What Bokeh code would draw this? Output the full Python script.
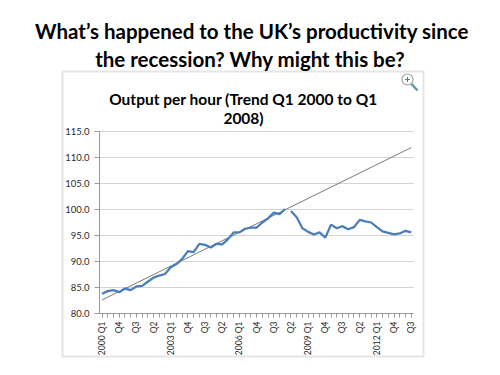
from bokeh.plotting import figure
from bokeh.models import (Range1d, FixedTicker, NumeralTickFormatter, Label,
                          BoxAnnotation, LinearAxis)
from bokeh.embed import file_html
from bokeh.resources import INLINE

# ---- data -------------------------------------------------------------
heading = ["What\u2019s happened to the UK\u2019s productivity since",
           "the recession? Why might this be?"]
chart_title = ["Output per hour (Trend Q1 2000 to Q1", "2008)"]

tick_labels = ["2000 Q1", "Q4", "Q3", "Q2", "2003 Q1", "Q4", "Q3", "Q2",
               "2006 Q1", "Q4", "Q3", "Q2", "2009 Q1", "Q4", "Q3", "Q2",
               "2012 Q1", "Q4", "Q3"]
tick_index = [0, 3, 6, 9, 12, 15, 18, 21, 24, 27, 30, 33, 36, 39, 42, 45,
              48, 51, 54]
quarter_index = list(range(0, 55))

# output per hour, 2000 Q1 .. 2008 Q1 (index 0..32)
pre_index = list(range(0, 33))
pre_values = [83.8, 84.3, 84.5, 84.1, 84.8, 84.5, 85.2, 85.3, 86.1, 86.9,
              87.3, 87.6, 88.9, 89.5, 90.5, 92.0, 91.8, 93.4, 93.2, 92.7,
              93.4, 93.3, 94.3, 95.6, 95.6, 96.3, 96.5, 96.5, 97.5, 98.3,
              99.4, 99.1, 100.1]
# output per hour, 2008 Q2 .. 2013 Q3 (index 33..54)
post_index = list(range(33, 55))
post_values = [99.7, 98.5, 96.4, 95.7, 95.2, 95.6, 94.6, 97.1, 96.4, 96.8,
               96.2, 96.6, 98.0, 97.7, 97.5, 96.6, 95.8, 95.5, 95.2, 95.4,
               95.9, 95.6]
# linear trend Q1 2000 to Q1 2008, extended
trend_index = [0, 54]
trend_values = [82.6, 111.9]

y_ticks = [80, 85, 90, 95, 100, 105, 110, 115]

# ---- layout constants ---------------------------------------------------
W, H = 500, 375
FL, FR, FT, FB = 99, 413, 131, 313   # plot area edges in pixels
XS, XE = -0.437, 54.40               # quarter index at FL / FR
YS, YE = 80.0, 115.0                 # value at FB / FT

kx = (FR - FL) / (XE - XS)
ky = (FB - FT) / (YE - YS)

# whole canvas is the frame; default ranges are pixel coordinates
p = figure(width=W, height=H, output_backend="svg", toolbar_location=None,
           title=None, x_range=Range1d(0, W), y_range=Range1d(H, 0),
           x_axis_type=None, y_axis_type=None, min_border=0,
           min_border_left=0, min_border_right=0, min_border_top=0,
           min_border_bottom=0)
p.outline_line_color = None
p.background_fill_color = "white"
p.border_fill_color = "white"

# data ranges spread over the full canvas
p.extra_x_ranges = {"q": Range1d(XS - FL / kx, XE + (W - FR) / kx)}
p.extra_y_ranges = {"v": Range1d(YS - (H - FB) / ky, YE + FT / ky)}

# chart box border
p.add_layout(BoxAnnotation(left=62, right=423, top=71, bottom=356,
                           fill_alpha=0, line_color="#a8a8a8",
                           line_width=2))

# horizontal gridlines
p.segment(x0=[XS] * len(y_ticks), x1=[XE] * len(y_ticks), y0=y_ticks,
          y1=y_ticks, x_range_name="q", y_range_name="v",
          line_color="#d4d4d4", line_width=1.2)

# y axis
yax = LinearAxis(x_range_name="q", y_range_name="v", fixed_location=XS,
                 bounds=(YS, YE))
yax.ticker = FixedTicker(ticks=y_ticks)
yax.formatter = NumeralTickFormatter(format="0.0")
yax.axis_line_color = "#9a9a9a"
yax.major_tick_line_color = "#9a9a9a"
yax.major_tick_out = 5
yax.major_tick_in = 0
yax.minor_tick_line_color = None
yax.major_label_text_font = "Lato"
yax.major_label_text_font_size = "9.5px"
yax.major_label_text_color = "#2b2b2b"
yax.major_label_standoff = 5
p.add_layout(yax, "left")

# x axis
xax = LinearAxis(x_range_name="q", y_range_name="v", fixed_location=YS,
                 bounds=(XS, XE))
xax.ticker = FixedTicker(ticks=tick_index, minor_ticks=quarter_index)
xax.major_label_overrides = {i: s for i, s in zip(tick_index, tick_labels)}
xax.major_label_orientation = 1.5708
xax.axis_line_color = "#9a9a9a"
xax.major_tick_line_color = "#9a9a9a"
xax.minor_tick_line_color = "#9a9a9a"
xax.major_tick_out = 4
xax.major_tick_in = 0
xax.minor_tick_out = 4
xax.minor_tick_in = 0
xax.major_label_text_font = "Lato"
xax.major_label_text_font_size = "8.5px"
xax.major_label_text_color = "#2b2b2b"
xax.major_label_standoff = 4
p.add_layout(xax, "below")

# series
p.line(trend_index, trend_values, x_range_name="q", y_range_name="v",
       line_color="#7a7a7a", line_width=1)
p.line(pre_index, pre_values, x_range_name="q", y_range_name="v",
       line_color="#4a7ebb", line_width=2.25)
p.line(post_index, post_values, x_range_name="q", y_range_name="v",
       line_color="#4a7ebb", line_width=2.25)

# slide heading
for txt, by, cx in [(heading[0], 30, 251.5), (heading[1], 58, 249.7)]:
    p.add_layout(Label(x=cx, y=by, text=txt, text_align="center",
                       text_baseline="alphabetic", text_font="Lato",
                       text_font_style="bold", text_font_size="20.5px",
                       text_color="#000000"))

# chart title
for txt, by in [(chart_title[0], 98), (chart_title[1], 117)]:
    p.add_layout(Label(x=243, y=by, text=txt, text_align="center",
                       text_baseline="alphabetic", text_font="Lato",
                       text_font_style="bold", text_font_size="15.5px",
                       text_color="#000000"))

# magnifier icon
p.scatter(x=[407], y=[79], marker="circle", size=11, fill_color="white",
          line_color="#9aa6aa", line_width=1.2)
p.scatter(x=[407], y=[79], marker="cross", size=5, line_color="#707070",
          line_width=1)
p.segment(x0=[411], y0=[83.5], x1=[417], y1=[90], line_color="#5f99a6",
          line_width=2.5)

open("out.html", "w").write(file_html(p, INLINE))
